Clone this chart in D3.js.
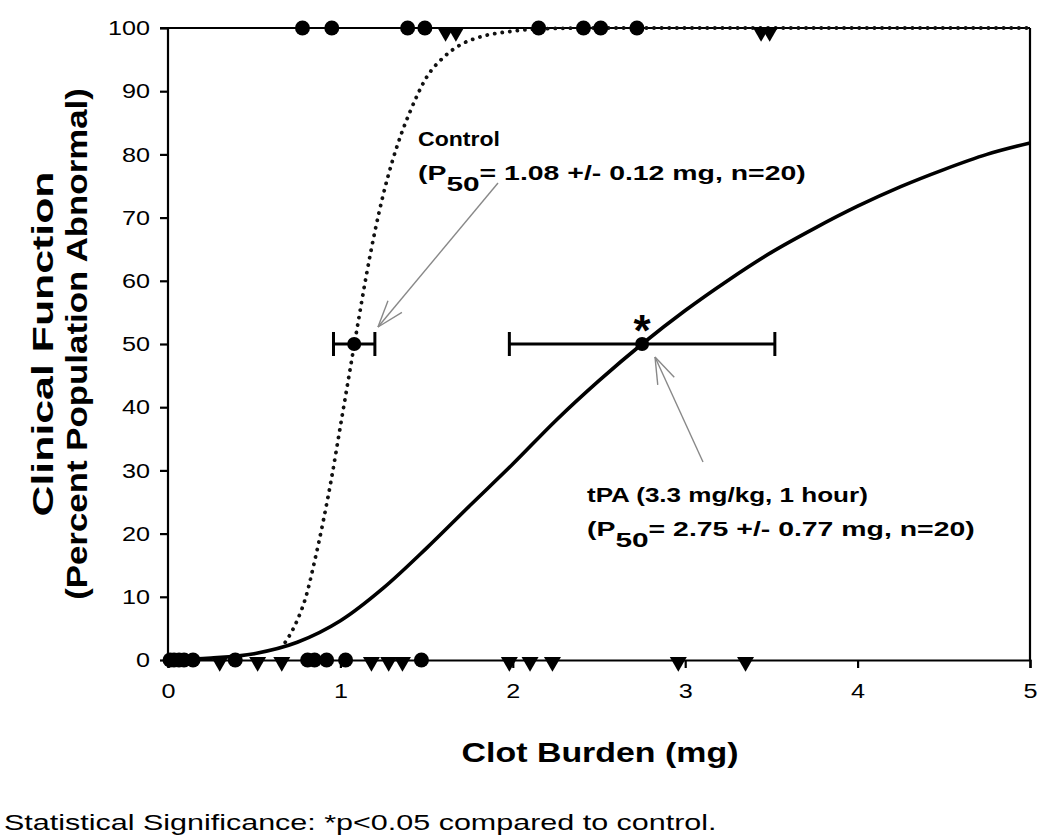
<!DOCTYPE html>
<html>
<head>
<meta charset="utf-8">
<script src="https://cdn.jsdelivr.net/npm/d3@7"></script>
<style>
  body { margin: 0; background: #fff; }
  svg { display: block; font-family: "Liberation Sans", Arial, sans-serif; }
</style>
</head>
<body>
<svg id="chart" width="1050" height="838"></svg>
<script>
// ---- data ----
const xTicks = [0, 1, 2, 3, 4, 5];
const yTicks = [0, 10, 20, 30, 40, 50, 60, 70, 80, 90, 100];

// individual observations (circles / triangles) at 0 % and 100 %
const circlesAt100 = [0.78, 0.95, 1.39, 1.49, 2.15, 2.41, 2.51, 2.72];
const trianglesAt100 = [1.61, 1.67, 3.44, 3.49];
const circlesAt0 = [0.012, 0.035, 0.064, 0.093, 0.145, 0.39, 0.81, 0.85, 0.92, 1.03, 1.47];
const trianglesAt0 = [0.30, 0.52, 0.66, 1.18, 1.28, 1.36, 1.98, 2.10, 2.23, 2.96, 3.35];

// fitted curves
const controlCurveX = [0.68, 0.72, 0.75, 0.80, 0.85, 0.90, 0.95, 1.00, 1.05, 1.10, 1.15, 1.20, 1.25, 1.30, 1.35, 1.40, 1.50, 1.60, 1.70, 1.80, 2.00, 2.20, 2.50, 3.00, 4.00, 5.00];
const controlCurveY = [2.8, 4.6, 6.3, 10.0, 15.6, 21.9, 29.0, 37.0, 45.0, 53.0, 60.8, 67.8, 73.8, 78.8, 83.0, 86.5, 92.2, 95.4, 97.4, 98.5, 99.5, 99.9, 100, 100, 100, 100];
const tpaCurveX = [0, 0.25, 0.50, 0.75, 1.00, 1.25, 1.50, 1.75, 2.00, 2.25, 2.50, 2.75, 3.00, 3.25, 3.50, 3.75, 4.00, 4.25, 4.50, 4.75, 5.00];
const tpaCurveY = [0, 0.3, 1.0, 2.8, 6.2, 11.4, 17.7, 24.4, 31.0, 37.9, 44.2, 50, 55.3, 60.1, 64.5, 68.3, 71.8, 74.9, 77.6, 80.0, 81.8];

// P50 estimates with error
const p50Names = ["Control", "tPA"];
const p50Values = [1.08, 2.75];
const p50Errors = [0.12, 0.77];

// ---- layout ----
const svg = d3.select("#chart");
const x = d3.scaleLinear().domain([0, 5]).range([168, 1030]);
const y = d3.scaleLinear().domain([0, 100]).range([660, 28]);

// horizontally stretch a text node so it spans targetW pixels
function stretch(sel, targetW) {
  const w = sel.node().getComputedTextLength();
  return targetW / w;
}

// frame (top and right)
svg.append("line").attr("x1", x(0)).attr("x2", x(5)).attr("y1", y(100)).attr("y2", y(100))
  .attr("stroke", "#000").attr("stroke-width", 2.2);
svg.append("line").attr("x1", x(5)).attr("x2", x(5)).attr("y1", y(100)).attr("y2", y(0))
  .attr("stroke", "#000").attr("stroke-width", 2.2);

// axes
const yAxis = d3.axisLeft(y).tickValues(yTicks).tickSize(8).tickPadding(10).tickFormat(d3.format("d"));
const xAxis = d3.axisBottom(x).tickValues(xTicks).tickSize(8).tickPadding(15).tickFormat(d3.format("d"));

const gy = svg.append("g").attr("transform", `translate(${x(0)},0)`).call(yAxis);
const gx = svg.append("g").attr("transform", `translate(0,${y(0)})`).call(xAxis);
[gx, gy].forEach(g => {
  g.select(".domain").attr("stroke", "#000").attr("stroke-width", 2.2);
  g.selectAll(".tick line").attr("stroke", "#000").attr("stroke-width", 2.2);
  g.selectAll(".tick text").attr("fill", "#000").style("font-size", "21px")
    .style("font-family", "'Liberation Sans', Arial, sans-serif");
});
gy.select(".domain").attr("d", `M-8,${y(100)}H0V${y(0)}`);
gy.selectAll(".tick text").attr("x", 0).attr("transform", "translate(-18,0) scale(1.2,1)");
gx.selectAll(".tick text").attr("transform", "scale(1.2,1)");

// curves
const line = d3.line().x(d => x(d[0])).y(d => y(d[1])).curve(d3.curveMonotoneX);
svg.append("path").datum(d3.zip(tpaCurveX, tpaCurveY)).attr("d", line)
  .attr("fill", "none").attr("stroke", "#000").attr("stroke-width", 3.6);
svg.append("path").datum(d3.zip(controlCurveX, controlCurveY)).attr("d", line)
  .attr("fill", "none").attr("stroke", "#111").attr("stroke-width", 3.8)
  .attr("stroke-dasharray", "0.1,7.5").attr("stroke-linecap", "round");

// markers
function circles(vals, yv) {
  svg.append("g").selectAll("circle").data(vals).join("circle")
    .attr("cx", d => x(d)).attr("cy", y(yv)).attr("r", 7.5).attr("fill", "#000");
}
function triangles(vals, yv, off) {
  const tri = d3.symbol().type(d3.symbolTriangle).size(125);
  svg.append("g").selectAll("path").data(vals).join("path")
    .attr("d", tri).attr("transform", d => `translate(${x(d)},${y(yv) + off}) rotate(180)`)
    .attr("fill", "#000");
}
circles(circlesAt100, 100);
triangles(trianglesAt100, 100, 4);
circles(circlesAt0, 0);
triangles(trianglesAt0, 0, 2);

// P50 error bars
p50Values.forEach((v, i) => {
  const e = p50Errors[i];
  const g = svg.append("g").attr("stroke", "#000").attr("stroke-width", 3);
  g.append("line").attr("x1", x(v - e)).attr("x2", x(v + e)).attr("y1", y(50)).attr("y2", y(50));
  g.append("line").attr("x1", x(v - e)).attr("x2", x(v - e)).attr("y1", y(50) - 12).attr("y2", y(50) + 12);
  g.append("line").attr("x1", x(v + e)).attr("x2", x(v + e)).attr("y1", y(50) - 12).attr("y2", y(50) + 12);
  svg.append("circle").attr("cx", x(v)).attr("cy", y(50)).attr("r", 7).attr("fill", "#000");
});
// significance asterisk
svg.append("text").attr("x", x(p50Values[1])).attr("y", y(50) + 2).attr("text-anchor", "middle")
  .style("font-size", "44px").style("font-weight", "bold").text("*");

// arrows
function arrow(x1, y1, x2, y2) {
  const g = svg.append("g").attr("stroke", "#888").attr("stroke-width", 1.4).attr("fill", "none");
  g.append("line").attr("x1", x1).attr("y1", y1).attr("x2", x2).attr("y2", y2);
  const ang = Math.atan2(y2 - y1, x2 - x1);
  const L = 28, a = 0.33;
  [ang + Math.PI - a, ang + Math.PI + a].forEach(t => {
    g.append("line").attr("x1", x2).attr("y1", y2)
      .attr("x2", x2 + L * Math.cos(t)).attr("y2", y2 + L * Math.sin(t));
  });
}
arrow(498, 183, 378, 327);
arrow(703, 462, 655, 357);

// annotations
function label(xp, yp, parts, targetW) {
  const t = svg.append("text").attr("x", 0).attr("y", 0)
    .style("font-size", "20px").style("font-weight", "bold");
  parts.forEach(p => {
    const s = t.append("tspan").text(p.t);
    if (p.sub) s.attr("dy", 11).style("font-size", "21px");
    if (p.up) s.attr("dy", -11);
  });
  const sx = stretch(t, targetW);
  t.attr("transform", `translate(${xp},${yp}) scale(${sx},1)`);
}
label(418, 146, [{t: "Control"}], 82);
label(418, 180, [{t: "(P"}, {t: "50", sub: true}, {t: "= 1.08 +/- 0.12 mg, n=20)", up: true}], 388);
label(587, 502, [{t: "tPA (3.3 mg/kg, 1 hour)"}], 281);
label(587, 536, [{t: "(P"}, {t: "50", sub: true}, {t: "= 2.75 +/- 0.77 mg, n=20)", up: true}], 388);

// axis titles
function title(cx, cy, rot, txt, size, targetW, bold) {
  const t = svg.append("text").attr("x", 0).attr("y", 0).attr("text-anchor", "middle")
    .style("font-size", size + "px").style("font-weight", bold ? "bold" : "normal").text(txt);
  const sx = stretch(t, targetW);
  t.attr("transform", `translate(${cx},${cy}) rotate(${rot}) scale(${sx},1)`);
  return t;
}
title(53, 344, -90, "Clinical Function", 29, 345, true);
title(87, 344, -90, "(Percent Population Abnormal)", 29, 512, true);
title(600, 762, 0, "Clot Burden (mg)", 27, 277, true);
const foot = svg.append("text").attr("x", 0).attr("y", 0).style("font-size", "22px")
  .text("Statistical Significance: *p<0.05 compared to control.");
foot.attr("transform", `translate(4,830) scale(${stretch(foot, 713)},1)`);
</script>
</body>
</html>
